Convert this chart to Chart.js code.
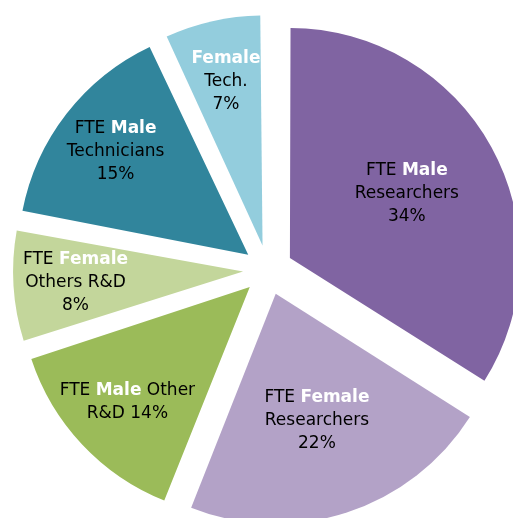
<!DOCTYPE html>
<html>
<head>
<meta charset="utf-8">
<script src="https://cdn.jsdelivr.net/npm/chart.js@4"></script>
<style>
  body { margin: 0; background: #fff; }
  canvas { display: block; }
</style>
</head>
<body>
<canvas id="myChart" width="513" height="518"></canvas>
<script>
const categories = [
  "FTE Male Researchers",
  "FTE Female Researchers",
  "FTE Male Other R&D",
  "FTE Female Others R&D",
  "FTE Male Technicians",
  "Female Tech.",
];
const shares = [34, 22, 14, 8, 15, 7];
// how each label is broken into lines, {v} is the share
const labelLines = [
  ["FTE Male", "Researchers", "{v}%"],
  ["FTE Female", "Researchers", "{v}%"],
  ["FTE Male Other", "R&D {v}%"],
  ["FTE Female", "Others R&D", "{v}%"],
  ["FTE Male", "Technicians", "{v}%"],
  ["Female", "Tech.", "{v}%"],
];
const sliceColors = ["#8064A2", "#B3A2C7", "#9BBB59", "#C3D69B", "#31859C", "#93CDDD"];

const FONT = "DejaVu Sans";
const FONT_SIZE = 17;

// chart.js grows the radius of thin exploded slices, keep them all the same size
const evenOffset = {
  id: "evenOffset",
  beforeDatasetsDraw(chart) {
    const meta = chart.getDatasetMeta(0);
    const base = meta.controller.outerRadius;
    meta.data.forEach((arc) => {
      const fix = 1 - Math.sin(Math.min(Math.PI, arc.circumference));
      arc.outerRadius = base - (arc.options.offset / 4) * fix;
    });
  },
};

const sliceLabels = {
  id: "sliceLabels",
  afterDatasetsDraw(chart) {
    const ctx = chart.ctx;
    const meta = chart.getDatasetMeta(0);
    const radius = meta.controller.outerRadius;
    meta.data.forEach((arc, i) => {
      const mid = (arc.startAngle + arc.endAngle) / 2;
      const k = arc.circumference > 1.2 ? 0.58 : 0.73;
      const dist = arc.options.offset / 4 + radius * k;
      const cx = arc.x + Math.cos(mid) * dist;
      const cy = arc.y + Math.sin(mid) * dist;
      const lines = labelLines[i].map((l) => l.replace("{v}", shares[i]));
      const lineHeight = 23;
      let y = cy - ((lines.length - 1) * lineHeight) / 2;
      ctx.save();
      ctx.textBaseline = "middle";
      ctx.textAlign = "left";
      lines.forEach((line) => {
        const parts = line.split(" ").map((w) => {
          const gender = w === "Male" || w === "Female";
          return {
            text: w,
            font: (gender ? "bold " : "") + FONT_SIZE + "px '" + FONT + "'",
            color: gender ? "#ffffff" : "#000000",
          };
        });
        ctx.font = FONT_SIZE + "px '" + FONT + "'";
        const space = ctx.measureText(" ").width;
        let total = 0;
        parts.forEach((p) => {
          ctx.font = p.font;
          p.width = ctx.measureText(p.text).width;
          total += p.width;
        });
        total += space * (parts.length - 1);
        let x = cx - total / 2;
        parts.forEach((p) => {
          ctx.font = p.font;
          ctx.fillStyle = p.color;
          ctx.fillText(p.text, x, y);
          x += p.width + space;
        });
        y += lineHeight;
      });
      ctx.restore();
    });
  },
};

const ctx = document.getElementById("myChart");
window.chart = new Chart(ctx, {
  type: "pie",
  data: {
    labels: categories,
    datasets: [
      {
        data: shares,
        backgroundColor: sliceColors,
        borderWidth: 0,
        offset: 100,
        radius: 230,
      },
    ],
  },
  options: {
    responsive: false,
    animation: false,
    radius: 230,
    layout: { padding: { left: 23, top: 22, right: 0, bottom: 0 } },
    plugins: {
      legend: { display: false },
      tooltip: { enabled: false },
    },
  },
  plugins: [evenOffset, sliceLabels],
});
</script>
</body>
</html>
